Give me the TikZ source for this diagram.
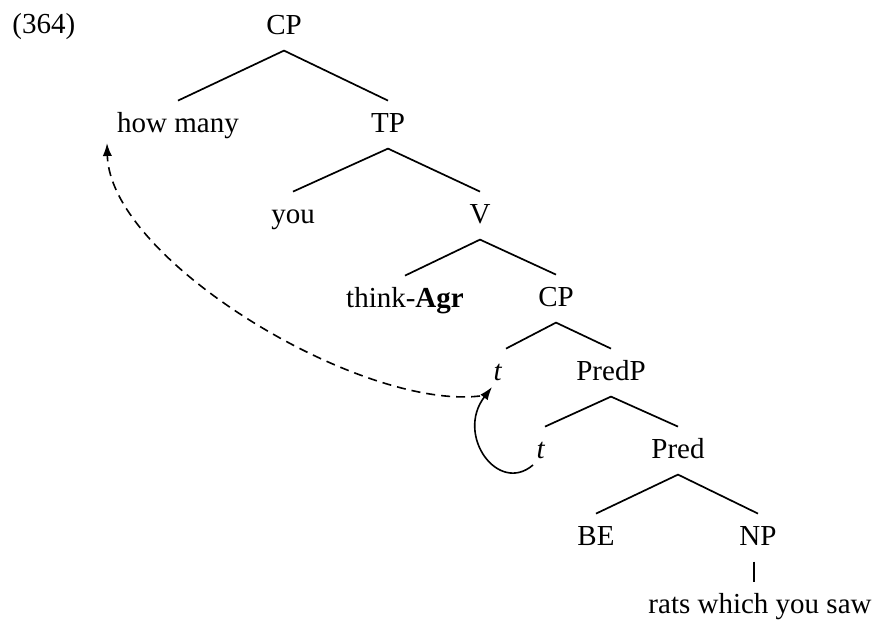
\documentclass[tikz,border=0pt]{standalone}
\usepackage{fontspec}
\setmainfont{Liberation Serif}
\usetikzlibrary{arrows.meta}
\begin{document}
\begin{tikzpicture}[x=0.5pt,y=-0.5pt,
  lbl/.style={anchor=base, inner xsep=0pt, inner ysep=5.5pt, text height=10pt, text depth=2.6pt, font=\fontsize{14.5}{17}\selectfont},
  br/.style={line width=0.85pt},
  mv/.style={line width=0.8pt, -{Latex[length=6.5pt,width=4.6pt]}}]
\useasboundingbox (0,0) rectangle (876,621);
\node[lbl,anchor=base west] (ex) at (12,33) {(364)};
\node[lbl] (cp1) at (284,34) {CP};
\node[lbl] (hm) at (178,132) {how many};
\node[lbl] (tp) at (388,132) {TP};
\node[lbl] (you) at (293,223) {you};
\node[lbl] (v) at (480,223) {V};
\node[lbl] (think) at (405,307) {think-\textbf{Agr}};
\node[lbl] (cp2) at (556,306) {CP};
\node[lbl] (t1) at (498,380) {\textit{t}};
\node[lbl] (predp) at (611,380) {PredP};
\node[lbl] (t2) at (541,458) {\textit{t}};
\node[lbl] (pred) at (678,458) {Pred};
\node[lbl] (be) at (596,545) {BE};
\node[lbl] (np) at (758,545) {NP};
\node[lbl] (rats) at (760,613) {rats which you saw};
\draw[br] (hm.north) -- (cp1.south) -- (tp.north);
\draw[br] (you.north) -- (tp.south) -- (v.north);
\draw[br] (think.north) -- (v.south) -- (cp2.north);
\draw[br] ([xshift=4]t1.north) -- (cp2.south) -- (predp.north);
\draw[br] ([xshift=2]t2.north) -- (predp.south) -- (pred.north);
\draw[br] (be.north) -- (pred.south) -- (np.north);
\draw[br] ([xshift=-2]np.south) -- ([xshift=-2]np.south |- rats.north);
\draw[mv] ([shift={(-8,7)}]t2.base) .. controls (498,495) and (455,435) .. ([shift={(-6,7)}]t1.base);
\draw[mv, dash pattern=on 4.5pt off 3pt] ([shift={(-18,16)}]t1.base) .. controls (360,410) and (110,260) .. ([shift={(-71,11)}]hm.base);
\end{tikzpicture}
\end{document}
